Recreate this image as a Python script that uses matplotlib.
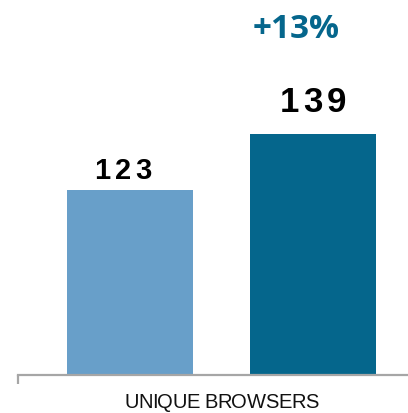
import matplotlib
matplotlib.use("Agg")
import matplotlib.pyplot as plt
from matplotlib.transforms import offset_copy

# values for the two periods
categories = ["Before", "After"]
values = [123, 139]
axis_label = "UNIQUE BROWSERS"

bar_colors = ["#689FC9", "#05668C"]
label_sizes = [21, 25]
label_gaps = [8, 16]      # points between bar top and label baseline
label_shift = [-5, 0]     # horizontal nudge of labels, points

DPI = 100
fig = plt.figure(figsize=(4.08, 4.13), dpi=DPI)
ax = fig.add_axes([18 / 408, 38 / 413, 390 / 408, 375 / 413])

xs = list(range(len(values)))
ax.bar(xs, values, width=0.687, color=bar_colors, zorder=2)
ax.set_xlim(-0.61, 1.52)
ax.set_ylim(70.1, 177.3)

for side in ["top", "right", "left"]:
    ax.spines[side].set_visible(False)
ax.spines["bottom"].set_color("#a6a6a6")
ax.spines["bottom"].set_linewidth(1.6)
ax.set_yticks([])
ax.set_xticks([-0.61])
ax.tick_params(axis="x", length=6.5, width=1.6, color="#a6a6a6", labelbottom=False)

renderer = fig.canvas.get_renderer()


def spaced_text(x, y, s, spacing_pt, dx_pt, dy_pt, **kw):
    # draw characters one by one so the tracking can be changed
    widths = []
    for ch in s:
        t = ax.text(0, 0, ch, **kw)
        widths.append(t.get_window_extent(renderer).width * 72 / DPI)
        t.remove()
    total = sum(widths) + spacing_pt * (len(s) - 1)
    pos = -total / 2 + dx_pt
    for ch, w in zip(s, widths):
        tr = offset_copy(ax.transData, fig=fig, x=pos, y=dy_pt, units="points")
        ax.text(x, y, ch, transform=tr, ha="left", va="baseline", **kw)
        pos += w + spacing_pt


for x, v, size, gap, shift in zip(xs, values, label_sizes, label_gaps, label_shift):
    spaced_text(x, v, str(v), 3.0, shift, gap, fontsize=size,
                fontweight="bold", family="Liberation Sans", color="black")

# category label with slightly tight tracking
spaced_text(0.5, 70.1, axis_label, -0.35, 0, -23.8, fontsize=14.5,
            family="Liberation Sans", color="#111111")

change = round((values[1] - values[0]) / values[0] * 100)
ax.text(xs[1], values[1], f"+{change}%",
        transform=offset_copy(ax.transData, fig=fig, x=-12, y=69, units="points"),
        ha="center", va="baseline", fontsize=24, fontweight="bold",
        family="Open Sans", color=bar_colors[1])

fig.savefig("out.png", dpi=DPI)
